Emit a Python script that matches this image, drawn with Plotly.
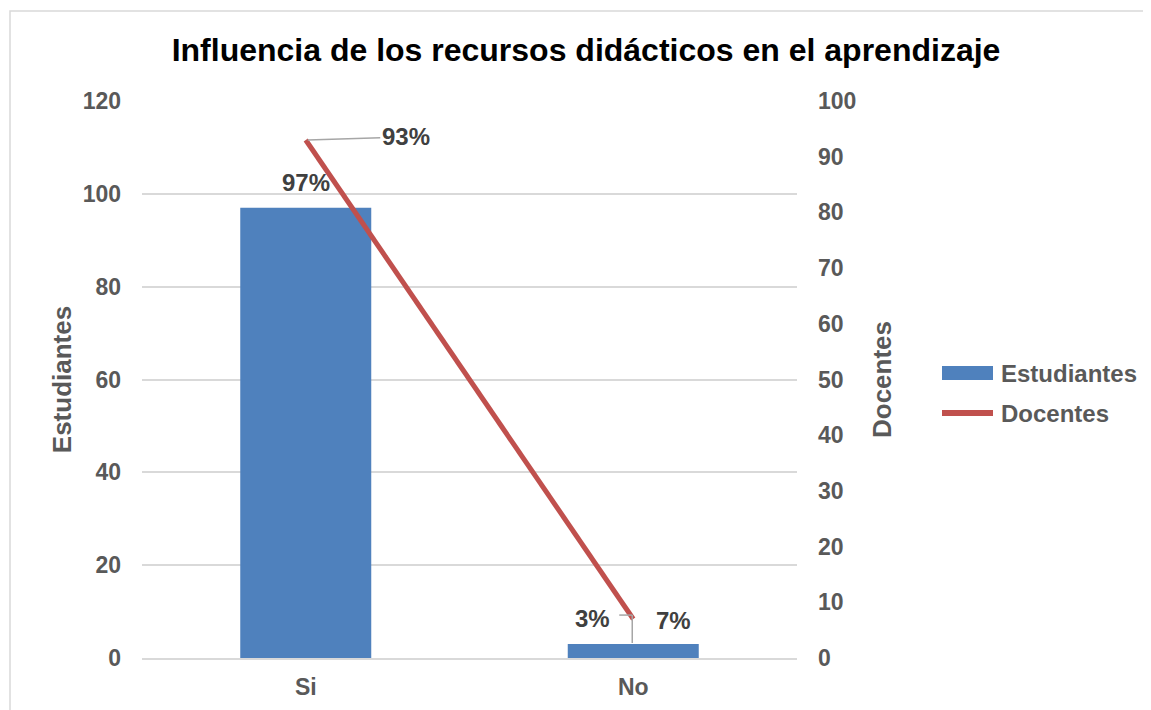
import plotly.graph_objects as go

categories = ["Si", "No"]
estudiantes = [97, 3]
docentes = [93, 7]
est_labels = ["97%", "3%"]
doc_labels = ["93%", "7%"]
series_names = ["Estudiantes", "Docentes"]
series_colors = ["#4F81BD", "#C0504D"]
y_ticks = [0, 20, 40, 60, 80, 100, 120]
y2_ticks = [0, 10, 20, 30, 40, 50, 60, 70, 80, 90, 100]

# page body has an 8px margin; work in screenshot pixels and translate
OFF = 8
W, H = 1151 - OFF, 710 - OFF
L, T = 142 - OFF, 101 - OFF
R = W - (797 - OFF)
B = H - (658 - OFF)
PW = W - L - R
PH = H - T - B

FONT = "Liberation Sans, Arial, sans-serif"
GRAY = "#595959"
LEAD = "#A6A6A6"


def px(x):
    return (x - OFF - L) / PW


def py(y):
    return (H - B - (y - OFF)) / PH


fig = go.Figure()
fig.add_trace(go.Bar(
    x=categories, y=estudiantes, name=series_names[0], showlegend=False,
    marker=dict(color=series_colors[0], line=dict(width=0)), width=0.4,
))
fig.add_trace(go.Scatter(
    x=categories, y=docentes, name=series_names[1], yaxis="y2", showlegend=False,
    mode="lines", line=dict(color=series_colors[1], width=5),
))

lab_font = dict(family=FONT, size=24, color="#404040", weight="bold")
ann = []
ann.append(dict(x=categories[0], y=estudiantes[0], xref="x", yref="y", text=est_labels[0],
                showarrow=False, yshift=25, font=lab_font))
ann.append(dict(x=categories[1], y=estudiantes[1], xref="x", yref="y", text=est_labels[1],
                showarrow=False, xshift=-41, yshift=26, font=lab_font))
ann.append(dict(x=categories[0], y=docentes[0], xref="x", yref="y2", text=doc_labels[0],
                showarrow=True, ax=100, ay=-3, arrowhead=0, arrowwidth=1.5,
                arrowcolor=LEAD, standoff=2, font=lab_font))
ann.append(dict(x=categories[1], y=docentes[1], xref="x", yref="y2", text=doc_labels[1],
                showarrow=False, xshift=40, yshift=-1, font=lab_font))

# legend (custom)
leg_font = dict(family=FONT, size=24, color=GRAY, weight="bold")
ann.append(dict(x=px(999), y=py(373), xref="paper", yref="paper", text=series_names[0],
                showarrow=False, xanchor="left", yanchor="middle", font=leg_font))
ann.append(dict(x=px(999), y=py(413), xref="paper", yref="paper", text=series_names[1],
                showarrow=False, xanchor="left", yanchor="middle", font=leg_font))

shapes = [
    dict(type="rect", xref="paper", yref="paper",
         x0=px(10), x1=px(1148), y0=py(720), y1=py(11),
         line=dict(color="#D9D9D9", width=1.5), fillcolor="rgba(0,0,0,0)", layer="below"),
    dict(type="line", xref="x", yref="y", xsizemode="pixel", ysizemode="pixel",
         xanchor=1, yanchor=estudiantes[1], x0=-14, x1=-1, y0=29, y1=29,
         line=dict(color=LEAD, width=1.5)),
    dict(type="line", xref="x", yref="y", xsizemode="pixel", ysizemode="pixel",
         xanchor=1, yanchor=estudiantes[1], x0=-1, x1=-1, y0=29, y1=1,
         line=dict(color=LEAD, width=1.5)),
    dict(type="rect", xref="paper", yref="paper", x0=px(942), x1=px(993),
         y0=py(380), y1=py(366), fillcolor=series_colors[0], line=dict(width=0)),
    dict(type="line", xref="paper", yref="paper", x0=px(942), x1=px(993),
         y0=py(413), y1=py(413), line=dict(color=series_colors[1], width=6)),
]

tickfont = dict(family=FONT, size=23, color=GRAY, weight="bold")
titlefont = dict(family=FONT, size=26, color=GRAY, weight="bold")

fig.update_layout(
    width=W, height=H,
    margin=dict(l=L, r=R, t=T, b=B, autoexpand=False),
    paper_bgcolor="white", plot_bgcolor="white",
    title=dict(text="Influencia de los recursos didácticos en el aprendizaje",
               font=dict(family=FONT, size=32, color="black", weight="bold"),
               x=(586 - OFF) / W, xref="container", xanchor="center",
               y=(H - (50 - OFF)) / H, yref="container", yanchor="middle"),
    xaxis=dict(showgrid=False, showline=True, linecolor="#D9D9D9", linewidth=1.5,
               ticks="", tickfont=tickfont, ticklabelstandoff=8, automargin=False),
    yaxis=dict(range=[0, 120], tickvals=y_ticks, showgrid=True, gridcolor="#D9D9D9",
               gridwidth=1.5, zeroline=False, showline=False, ticks="",
               tickfont=tickfont, ticklabelstandoff=20, automargin=False,
               title=dict(text=series_names[0], font=titlefont, standoff=3)),
    yaxis2=dict(range=[0, 100], tickvals=y2_ticks, overlaying="y", side="right",
                showgrid=False, zeroline=False, showline=False, ticks="",
                tickfont=tickfont, ticklabelstandoff=20, automargin=False,
                title=dict(text=series_names[1], font=titlefont, standoff=17)),
    showlegend=False,
    annotations=ann,
    shapes=shapes,
)

fig.write_html("out.html")
